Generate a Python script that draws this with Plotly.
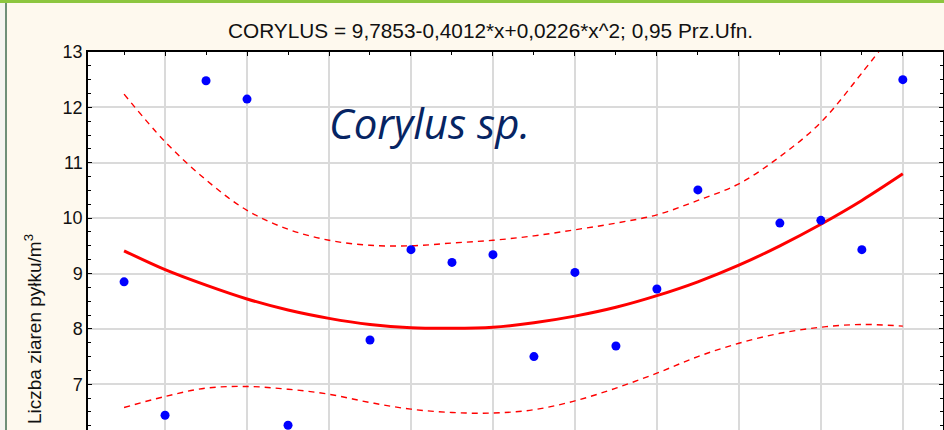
import plotly.graph_objects as go

# pomiary (x = kolejny rok)
years = [1, 2, 3, 4, 5, 7, 8, 9, 10, 11, 12, 13, 14, 15, 17, 18, 19, 20]
pollen = [8.85, 6.44, 12.48, 12.15, 6.26, 7.80, 9.43, 9.20, 9.34, 7.50,
          9.02, 7.69, 8.72, 10.51, 9.91, 9.96, 9.43, 12.50]

# krzywa regresji i 0,95 przedzial ufnosci
fit_x = list(range(1, 21))
fit_y = [9.41, 9.07, 8.79, 8.54, 8.34, 8.19, 8.08, 8.02, 8.01, 8.03,
         8.11, 8.23, 8.39, 8.60, 8.85, 9.15, 9.50, 9.89, 10.32, 10.80]
upper = [12.24, 11.38, 10.69, 10.14, 9.80, 9.60, 9.51, 9.50, 9.55, 9.60,
         9.68, 9.79, 9.91, 10.06, 10.32, 10.62, 11.11, 11.73, 12.62, 13.57]
lower = [6.58, 6.78, 6.93, 6.96, 6.91, 6.82, 6.67, 6.55, 6.49, 6.48,
         6.54, 6.70, 6.93, 7.20, 7.50, 7.74, 7.92, 8.03, 8.08, 8.05]

title = "CORYLUS = 9,7853-0,4012*x+0,0226*x^2; 0,95 Prz.Ufn."
ytitle = "Liczba ziaren pyłku/m<sup>3</sup>"

W, H = 944, 430
L, R, T, B = 88, 1, 52, 0


def px_x(p):
    return (p - L) / (W - L - R)


def px_y(p):
    return (H - B - p) / (H - T - B)


fig = go.Figure()

for band in (upper, lower):
    fig.add_trace(go.Scatter(
        x=fit_x, y=band, mode="lines", line_shape="spline",
        line=dict(color="#FF0000", width=1.4, dash="6px,5px"),
        hoverinfo="skip"
    ))

fig.add_trace(go.Scatter(
    x=fit_x, y=fit_y, mode="lines", line_shape="spline",
    line=dict(color="#FF0000", width=3)
))

fig.add_trace(go.Scatter(
    x=years, y=pollen, mode="markers",
    marker=dict(color="#0000FF", size=9)
))

axis_font = dict(family="Liberation Sans, Arial", size=18, color="#111111")

fig.update_layout(
    width=W, height=H,
    margin=dict(l=L, r=R, t=T, b=B),
    paper_bgcolor="#FEF9EE",
    plot_bgcolor="white",
    showlegend=False,
    template="none",
    xaxis=dict(
        range=[0.12, 20.98], side="top", dtick=2, tick0=0,
        showline=True, linecolor="black", linewidth=1.5,
        ticks="inside", ticklen=4, tickcolor="black",
        showgrid=True, gridcolor="#DADADA", gridwidth=1.5,
        showticklabels=False, zeroline=False, automargin=False,
        minor=dict(dtick=1, ticks="inside", ticklen=3, tickcolor="black", showgrid=False),
    ),
    yaxis=dict(
        range=[6.174, 13], dtick=1, tick0=0,
        showline=True, mirror="allticks", linecolor="black", linewidth=1.5,
        ticks="inside", ticklen=4, tickcolor="black",
        showgrid=True, gridcolor="#DADADA", gridwidth=1.5,
        tickfont=axis_font, zeroline=False, automargin=False,
        minor=dict(dtick=0.25, ticks="inside", ticklen=3, tickcolor="black", showgrid=False),
    ),
    annotations=[
        dict(text=title, xref="paper", yref="paper", x=px_x(490), y=px_y(30),
             xanchor="center", yanchor="middle", showarrow=False,
             font=dict(family="Liberation Sans, Arial", size=20.8, color="#111111")),
        dict(text=ytitle, xref="paper", yref="paper", x=px_x(33), y=px_y(329),
             xanchor="center", yanchor="middle", textangle=-90, showarrow=False,
             font=dict(family="Liberation Sans, Arial", size=19, color="#111111")),
        dict(text="<i>Corylus sp.</i>", xref="x", yref="y", x=5.96, y=11.72,
             xanchor="left", yanchor="middle", showarrow=False,
             font=dict(family="Open Sans", size=42, color="#062463")),
    ],
    shapes=[
        dict(type="rect", xref="paper", yref="paper", layer="above",
             x0=px_x(0), x1=px_x(W), y0=px_y(3), y1=px_y(0),
             fillcolor="#8DC63F", line_width=0),
        dict(type="rect", xref="paper", yref="paper", layer="above",
             x0=px_x(0), x1=px_x(5), y0=px_y(H), y1=px_y(3),
             fillcolor="#F4F4F0", line_width=0),
        dict(type="rect", xref="paper", yref="paper", layer="above",
             x0=px_x(5), x1=px_x(7), y0=px_y(H), y1=px_y(3),
             fillcolor="#6F8F78", line_width=0),
    ],
)

fig.write_html("out.html", config={"displayModeBar": False},
               post_script="document.body.style.margin='0';document.body.style.overflow='hidden';")
